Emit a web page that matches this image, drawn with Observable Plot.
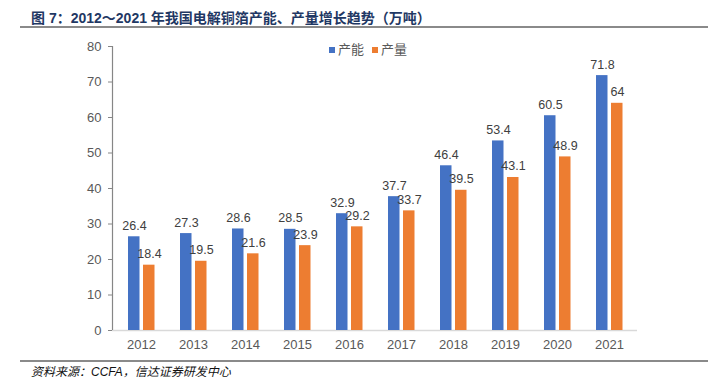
<!DOCTYPE html>
<html>
<head>
<meta charset="utf-8">
<script src="https://cdn.jsdelivr.net/npm/d3@7"></script>
<script src="https://cdn.jsdelivr.net/npm/@observablehq/plot@0.6"></script>
<style>
  html, body { margin: 0; padding: 0; background: #fff; }
  #wrap { position: relative; width: 721px; height: 389px; overflow: hidden; font-family: "Liberation Sans", Arial, sans-serif; }
  #title { position: absolute; left: 31px; top: 7px; font-size: 14px; font-weight: bold; color: #1F3864; font-family: "Liberation Sans", "Noto Sans CJK SC", sans-serif; white-space: nowrap; }
  #topline { position: absolute; left: 20px; top: 26px; width: 688px; height: 2px; background: #8a8a8a; }
  #botline { position: absolute; left: 20px; top: 360px; width: 688px; height: 2px; background: #8a8a8a; }
  #source { position: absolute; left: 31px; top: 362px; font-size: 12px; font-style: italic; color: #111; font-family: "Liberation Sans", "Noto Sans CJK SC", sans-serif; white-space: nowrap; }
  #legend { position: absolute; left: 329px; top: 39px; font-size: 13px; color: #595959; font-family: "Noto Sans CJK SC", sans-serif; display: flex; align-items: center; gap: 8px; }
  #legend span.sw { display: inline-block; width: 6px; height: 6px; margin-right: 3px; vertical-align: middle; }
  #chart { position: absolute; left: 0; top: 0; }
</style>
</head>
<body>
<div id="wrap">
  <div id="chart"></div>
  <div id="topline"></div>
  <div id="title">图 7：2012～2021 年我国电解铜箔产能、产量增长趋势（万吨）</div>
  <div id="legend"></div>
  <div id="botline"></div>
  <div id="source">资料来源：CCFA，信达证券研发中心</div>
</div>
<script>
const years = ["2012","2013","2014","2015","2016","2017","2018","2019","2020","2021"];
const capacity = [26.4, 27.3, 28.6, 28.5, 32.9, 37.7, 46.4, 53.4, 60.5, 71.8];
const output = [18.4, 19.5, 21.6, 23.9, 29.2, 33.7, 39.5, 43.1, 48.9, 64];
const seriesNames = ["产能", "产量"];
const colors = ["#4472C4", "#ED7D31"];
const yTicks = [0, 10, 20, 30, 40, 50, 60, 70, 80];

const capData = years.map((y, i) => ({year: y, value: capacity[i]}));
const outData = years.map((y, i) => ({year: y, value: output[i]}));

const labelFont = {fontSize: 12.5, fill: "#404040", fontFamily: "Liberation Sans, Arial, sans-serif"};

const chart = Plot.plot({
  width: 721,
  height: 389,
  marginLeft: 112,
  marginRight: 84,
  marginTop: 46,
  marginBottom: 59,
  style: {fontFamily: "Liberation Sans, Arial, sans-serif", background: "transparent"},
  x: {domain: years, padding: 0, axis: null},
  y: {domain: [0, 80], axis: null},
  marks: [
    Plot.ruleY([0], {stroke: "#d9d9d9", strokeWidth: 1.5}),
    Plot.barY(capData, {x: "year", y: "value", fill: colors[0], insetLeft: 13, insetRight: 27.5}),
    Plot.barY(outData, {x: "year", y: "value", fill: colors[1], insetLeft: 28, insetRight: 12.5}),
    Plot.text(capData, {x: "year", y: "value", text: d => String(d.value), dx: -7, dy: -7, lineAnchor: "bottom", ...labelFont}),
    Plot.text(outData, {x: "year", y: "value", text: d => String(d.value), dx: 8, dy: -7, lineAnchor: "bottom", ...labelFont}),
    Plot.axisX({ticks: years, tickSize: 0, tickPadding: 9, fontSize: 13, color: "#595959", label: null}),
    Plot.axisY({ticks: yTicks, tickSize: 4, tickPadding: 7, fontSize: 13, color: "#595959", stroke: "#868686", label: null})
  ]
});
document.getElementById("chart").appendChild(chart);

// y-axis line at the left edge of the plot area, from the y scale
const yS = chart.scale("y");
d3.select(chart).append("line")
  .attr("x1", 112.5).attr("x2", 112.5)
  .attr("y1", yS.apply(80)).attr("y2", yS.apply(0))
  .attr("stroke", "#868686").attr("stroke-width", 1.2);

const legend = document.getElementById("legend");
seriesNames.forEach((n, i) => {
  const item = document.createElement("div");
  item.innerHTML = `<span class="sw" style="background:${colors[i]}"></span>${n}`;
  legend.appendChild(item);
});
</script>
</body>
</html>
